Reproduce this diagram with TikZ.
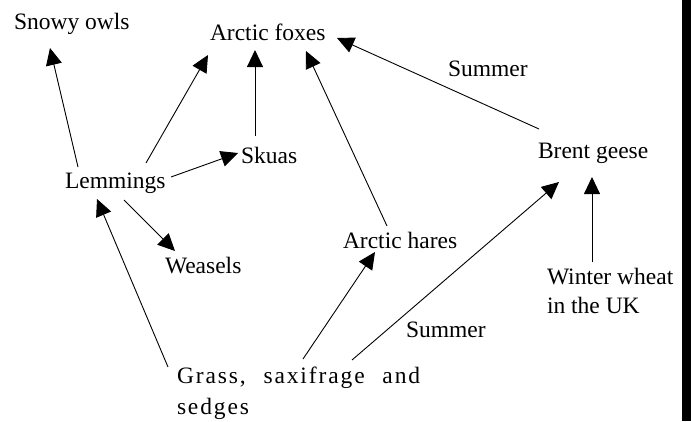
\documentclass[tikz,border=0pt]{standalone}
\usepackage{fontspec}
\setmainfont{Liberation Serif}
\usetikzlibrary{arrows.meta}
\begin{document}
\begin{tikzpicture}[x=1pt,y=-1pt,
  lbl/.style={inner sep=0pt,outer sep=0pt,anchor=base west,font=\fontsize{23.5}{29}\selectfont},
  arr/.style={line width=0.9pt,-{Triangle[length=17pt,width=16pt]}}]
\useasboundingbox (0,0) rectangle (691,421);
\fill[white] (0,0) rectangle (691,421);
\fill[black] (682,0) rectangle (691,421);
\node[lbl] (owl) at (14,29) {Snowy owls};
\node[lbl] (fox) at (210,40) {Arctic foxes};
\node[lbl] (sku) at (241,163) {Skuas};
\node[lbl] (lem) at (65,188) {Lemmings};
\node[lbl] (wea) at (165,273) {Weasels};
\node[lbl] (har) at (343,248) {Arctic hares};
\node[lbl] (bre) at (538,158) {Brent geese};
\node[lbl] (sum1) at (448,76) {Summer};
\node[lbl] (sum2) at (406,337) {Summer};
\node[lbl,align=left] (win) at (547,313) {Winter wheat\\in the UK};
\node[lbl,align=left,font=\fontsize{23.5}{31}\selectfont\addfontfeature{LetterSpace=8}] (gra) at (177,414) {Grass,\hspace{10pt} saxifrage\hspace{10pt} and\\sedges};
\draw[arr] ([shift={(13,-21)}]lem.base west) -- ([shift={(36,19)}]owl.base west);
\draw[arr] ([shift={(81,-25)}]lem.base west) -- ([shift={(-2,15)}]fox.base west);
\draw[arr] ([shift={(14,-27)}]sku.base west) -- ([shift={(45,10)}]fox.base west);
\draw[arr] ([shift={(106,-11)}]lem.base west) -- ([shift={(-3,-10)}]sku.base west);
\draw[arr] ([shift={(59,12)}]lem.base west) -- ([shift={(10,-22)}]wea.base west);
\draw[arr] ([shift={(-9,-47)}]gra.base west) -- ([shift={(32,11)}]lem.base west);
\draw[arr] ([shift={(126,-55)}]gra.base west) -- ([shift={(32,4)}]har.base west);
\draw[arr] ([shift={(175,-54)}]gra.base west) -- ([shift={(21,24)}]bre.base west);
\draw[arr] ([shift={(45,-51)}]win.base west) -- ([shift={(54,19)}]bre.base west);
\draw[arr] ([shift={(1,-29)}]bre.base west) -- ([shift={(127,-2)}]fox.base west);
\draw[arr] ([shift={(44,-22)}]har.base west) -- ([shift={(96,11)}]fox.base west);
\end{tikzpicture}
\end{document}
